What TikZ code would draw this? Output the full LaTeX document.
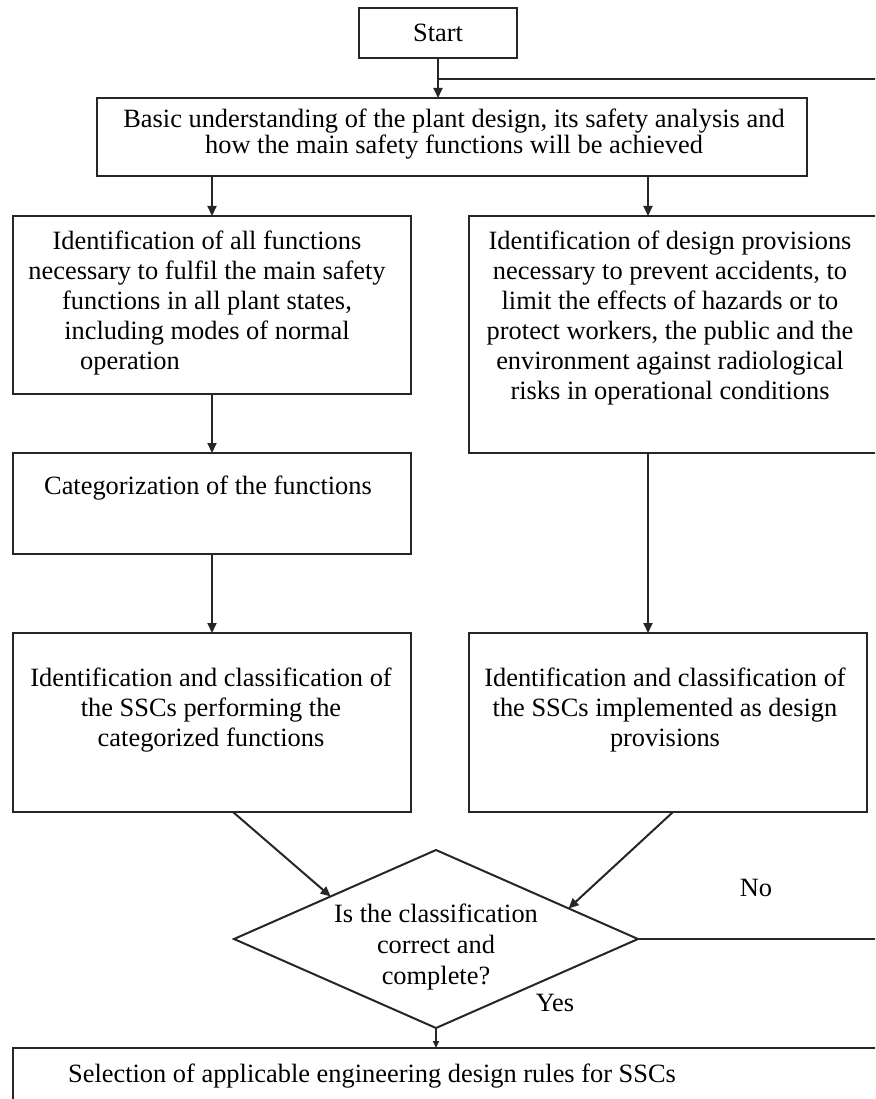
\documentclass[tikz,border=0pt]{standalone}
\usepackage{fontspec}
\setmainfont{Liberation Serif}
\usetikzlibrary{shapes.geometric,arrows.meta}
\begin{document}
\begin{tikzpicture}[x=1pt,y=-1pt,
  every node/.style={inner sep=0pt, outer sep=0pt},
  frame/.style={draw=black!85, line width=2pt, rectangle},
  txt/.style={align=center, font=\fontsize{26.4}{30}\selectfont},
  link/.style={draw=black!85, line width=2pt},
  arr/.style={link, -{Triangle[length=10pt,width=9pt]}},
  arrsmall/.style={link, -{Triangle[length=7pt,width=6pt]}}]
\useasboundingbox (0,0) rectangle (875,1099);
\clip (0,0) rectangle (875,1099);

% boxes
\node[frame, minimum width=158pt, minimum height=50pt] (start) at (438,33) {};
\node[frame, minimum width=710pt, minimum height=78pt] (basic) at (452,137) {};
\node[frame, minimum width=398pt, minimum height=178pt] (f1) at (212,305) {};
\node[frame, minimum width=431pt, minimum height=237pt] (prov) at (684.5,334.5) {};
\node[frame, minimum width=398pt, minimum height=101pt] (f2) at (212,503.5) {};
\node[frame, minimum width=398pt, minimum height=179pt] (f3) at (212,722.5) {};
\node[frame, minimum width=398pt, minimum height=179pt] (sscp) at (668,722.5) {};
\node[draw=black!85, line width=2pt, diamond, minimum width=404pt, minimum height=178pt] (q) at (436,939) {};
\node[frame, minimum width=887pt, minimum height=72pt] (sel) at (456.5,1084) {};

% texts
\node[txt] (tstart) at (438,33) {Start};
\node[txt, font=\fontsize{26.4}{24}\selectfont] (tbasic) at (454,134) {Basic understanding of the plant design, its safety analysis and\\how the main safety functions will be achieved};
\node[txt] (tf1) at (207,303) {Identification of all functions\\necessary to fulfil the main safety\\functions in all plant states,\\including modes of normal\\\hspace*{-77pt}operation\hspace*{77pt}};
\node[txt] (tprov) at (670,318) {Identification of design provisions\\necessary to prevent accidents, to\\limit the effects of hazards or to\\protect workers, the public and the\\environment against radiological\\risks in operational conditions};
\node[txt] (tf2) at (208,488) {Categorization of the functions};
\node[txt] (tf3) at (211,710) {Identification and classification of\\the SSCs performing the\\categorized functions};
\node[txt] (tsscp) at (665,710) {Identification and classification of\\the SSCs implemented as design\\provisions};
\node[txt, font=\fontsize{26.4}{31}\selectfont] (tq) at (436,947) {Is the classification\\correct and\\complete?};
\node[txt] (tyes) at (555,1003) {Yes};
\node[txt] (tno) at (756,888) {No};
\node[txt] (tsel) at (372,1076) {Selection of applicable engineering design rules for SSCs};

% column positions of the connectors
\coordinate (colL) at (212,0);
\coordinate (colR) at (648,0);
\coordinate (dl) at (233,0);
\coordinate (dr) at (673,0);
\coordinate (join) at (438,79);
\coordinate (loopR) at (900,0);

% connectors
\draw[arr] (start.south) -- (start.south |- basic.north);
\draw[link] (q.east) -| (loopR |- join) -- (join);
\draw[arr] (basic.south -| colL) -- (f1.north -| colL);
\draw[arr] (basic.south -| colR) -- (prov.north -| colR);
\draw[arr] (f1.south -| colL) -- (f2.north -| colL);
\draw[arr] (f2.south -| colL) -- (f3.north -| colL);
\draw[arr] (prov.south -| colR) -- (sscp.north -| colR);
\draw[arr] (f3.south -| dl) -- (q.158);
\draw[arr] (sscp.south -| dr) -- (q.13);
\draw[arrsmall] (q.south) -- (q.south |- sel.north);
\end{tikzpicture}
\end{document}
